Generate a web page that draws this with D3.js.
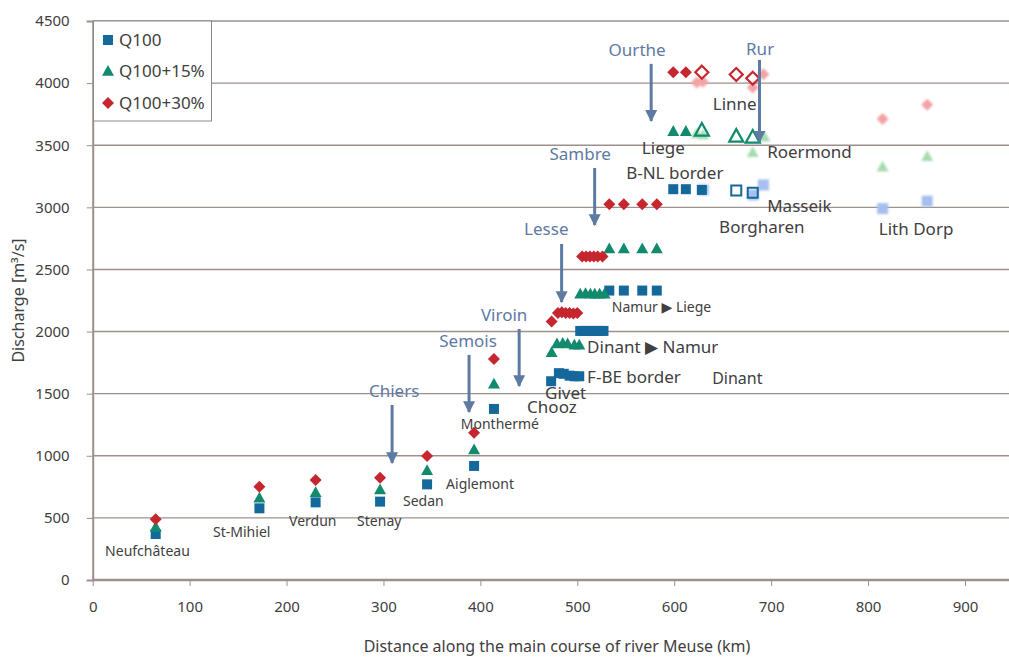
<!DOCTYPE html>
<html>
<head>
<meta charset="utf-8">
<script src="https://cdn.jsdelivr.net/npm/d3@7"></script>
<style>
  html, body { margin: 0; padding: 0; background: #fff; }
  svg { display: block; }
  text { font-family: "Noto Sans", "DejaVu Sans", sans-serif; }
</style>
</head>
<body>
<svg id="chart" width="1009" height="657"></svg>
<script>
// Discharge along the Meuse: km along the main course vs discharge [m3/s]
const xTicks = [0, 100, 200, 300, 400, 500, 600, 700, 800, 900];
const yTicks = [0, 500, 1000, 1500, 2000, 2500, 3000, 3500, 4000, 4500];

// Q100 (filled squares)
const q100Km  = [65, 172, 230, 296.5, 345, 393.5, 414, 473, 481, 486, 492, 497, 502, 503, 507, 511, 515, 519, 523, 527, 533, 548, 567, 582, 599, 612, 628.5];
const q100Val = [370, 577, 625, 631, 770, 918, 1377, 1600, 1665, 1660, 1645, 1640, 1640, 2005, 2005, 2005, 2005, 2005, 2005, 2005, 2330, 2330, 2330, 2330, 3146, 3146, 3140];
// Q100 + 15% (filled triangles)
const q115Km  = [65, 172, 230, 296.5, 345, 393.5, 414, 473.5, 479, 485, 490, 497, 502, 503, 508.5, 513.5, 518, 523, 528, 533, 548, 567, 582, 599, 612];
const q115Val = [424, 658, 703, 725, 880, 1047, 1576, 1830, 1900, 1905, 1900, 1890, 1890, 2300, 2305, 2300, 2300, 2300, 2300, 2665, 2665, 2665, 2665, 3610, 3610];
// Q100 + 30% (filled diamonds)
const q130Km  = [65, 172, 230, 296.5, 345, 393.5, 414, 473.5, 480, 484, 488, 492, 496, 500, 505, 509, 513, 517, 521, 526, 533, 548, 567, 582, 599, 612];
const q130Val = [489, 751, 805, 824, 998, 1186, 1779, 2080, 2150, 2155, 2150, 2150, 2145, 2150, 2605, 2605, 2605, 2605, 2605, 2605, 3025, 3025, 3025, 3025, 4088, 4088];

// Outlined markers (Dutch stations)
const q100OpenKm  = [664, 681];
const q100OpenVal = [3135, 3118];
const q115OpenKm  = [628.5, 664, 681];
const q115OpenVal = [3618, 3569, 3561];
const q130OpenKm  = [628.5, 664, 681];
const q130OpenVal = [4088, 4069, 4039];

// Pale markers (alternative estimates)
const q100PaleKm  = [630, 681.5, 692, 815, 861];
const q100PaleVal = [3140, 3100, 3180, 2990, 3050];
const q115PaleKm  = [623, 630, 681, 693, 815, 861];
const q115PaleVal = [3590, 3583, 3440, 3564, 3323, 3408];
const q130PaleKm  = [623.3, 629.5, 681, 692, 815, 861];
const q130PaleVal = [4005, 4010, 3964, 4072, 3712, 3825];

// Station names: label, km at left edge, discharge at text middle, font size
const stationNames = ["Neufchâteau", "St-Mihiel", "Verdun", "Stenay", "Sedan", "Aiglemont", "Monthermé", "Chooz", "Givet", "F-BE border", "Dinant ▶ Namur", "Namur ▶ Liege", "Dinant", "Liege", "B-NL border", "Linne", "Roermond", "Masseik", "Borgharen", "Lith Dorp"];
const stationKm    = [12.8, 124.2, 202.6, 272.8, 320.2, 364.6, 379.8, 448.2, 466.7, 510.1, 510.1, 535.6, 639.1, 566.6, 550.4, 639.8, 695.9, 695.9, 646.3, 811.1];
const stationQ     = [233, 386, 475, 475, 638, 773, 1256, 1395, 1506, 1634, 1878, 2200, 1626, 3478, 3280, 3833, 3449, 3014, 2845, 2826];
const stationSize  = [14, 14, 14, 14, 14, 14, 14, 17, 17, 17, 17, 14, 16, 17, 17, 17, 17, 17, 17, 17];

// Tributaries: name, confluence km, arrow top / bottom discharge, label position
const riverNames  = ["Chiers", "Semois", "Viroin", "Lesse", "Sambre", "Ourthe", "Rur"];
const riverKm     = [308.9, 388.3, 440, 483.8, 517.9, 576.2, 688];
const riverTop    = [1409, 1812, 2021, 2705, 3317, 4155, 4187];
const riverBottom = [942, 1353, 1562, 2238, 2858, 3696, 3527];
const riverLabelKm = [311, 387.3, 424.5, 468, 503, 561.7, 688.6];
const riverLabelQ  = [1522, 1924, 2134, 2826, 3430, 4267, 4275];

const legendNames = ["Q100", "Q100+15%", "Q100+30%"];

const W = 1009, H = 657;
const svg = d3.select("#chart");

const x = d3.scaleLinear().domain([0, 900]).range([92.7, 965]);
const y = d3.scaleLinear().domain([0, 4500]).range([580, 21]);
const xEnd = W;

const gridColor = "#9d8f8b";
const textColor = "#404040";
const riverColor = "#5e7aa3";
const cSquare = "#14699a", cTri = "#128a6e", cDia = "#c6262e";
const pSquare = "#a6bff0", pTri = "#a5dcaf", pDia = "#f2a3a6";

// Gridlines
svg.append("g").selectAll("line").data(yTicks.filter(d => d > 0)).join("line")
  .attr("x1", x(0)).attr("x2", xEnd)
  .attr("y1", d => y(d)).attr("y2", d => y(d))
  .attr("stroke", gridColor).attr("stroke-width", 1.4);

// Axes
const yAxis = d3.axisLeft(y).tickValues(yTicks).tickFormat(d3.format("d")).tickSize(6).tickPadding(17);
const gy = svg.append("g").attr("transform", `translate(${x(0)},0)`).call(yAxis);
gy.select(".domain").attr("stroke", gridColor).attr("stroke-width", 2);
gy.selectAll(".tick line").attr("stroke", gridColor).attr("stroke-width", 1);
gy.selectAll(".tick text").attr("fill", textColor).attr("font-size", 15)
  .attr("font-family", "'Noto Sans', sans-serif");

const xAxis = d3.axisBottom(x).tickValues(xTicks).tickFormat(d3.format("d")).tickSize(6).tickPadding(15);
const gx = svg.append("g").attr("transform", `translate(0,${y(0)})`).call(xAxis);
gx.select(".domain").remove();
gx.append("line").attr("x1", x(0)).attr("x2", xEnd).attr("y1", 0).attr("y2", 0)
  .attr("stroke", gridColor).attr("stroke-width", 2.4);
gx.selectAll(".tick line").attr("stroke", gridColor).attr("stroke-width", 1);
gx.selectAll(".tick text").attr("fill", textColor).attr("font-size", 15)
  .attr("font-family", "'Noto Sans', sans-serif");

// Axis titles
svg.append("text").attr("x", 557).attr("y", 652).attr("text-anchor", "middle")
  .attr("font-size", 16).attr("fill", textColor)
  .text("Distance along the main course of river Meuse (km)");
svg.append("text").attr("transform", `translate(24,${y(2250)}) rotate(-90)`)
  .attr("text-anchor", "middle").attr("font-size", 16).attr("fill", textColor)
  .text("Discharge [m³/s]");

// Marker shapes
function shapePath(kind, s) {
  if (kind === "square") return `M${-s/2},${-s/2}h${s}v${s}h${-s}Z`;
  if (kind === "triangle") { const h = s * 0.9; return `M0,${-h*0.6}L${s/2},${h*0.4}L${-s/2},${h*0.4}Z`; }
  const r = s / 2; return `M0,${-r}L${r},0L0,${r}L${-r},0Z`;
}

const defs = svg.append("defs");
defs.append("filter").attr("id", "soft").attr("x", "-50%").attr("y", "-50%").attr("width", "200%").attr("height", "200%")
  .append("feGaussianBlur").attr("stdDeviation", 0.9);

function plotSeries(kms, vals, kind, opts) {
  const pts = kms.map((k, i) => ({ k, v: vals[i] }));
  const g = svg.append("g");
  if (opts.filter) g.attr("filter", opts.filter);
  g.selectAll("path").data(pts).join("path")
    .attr("transform", d => `translate(${x(d.k)},${y(d.v)})`)
    .attr("d", shapePath(kind, opts.size))
    .attr("fill", opts.fill)
    .attr("stroke", opts.stroke || "none")
    .attr("stroke-width", opts.strokeWidth || 0)
    .attr("stroke-linejoin", "miter");
}

// Pale markers underneath
plotSeries(q100PaleKm, q100PaleVal, "square", { size: 11, fill: pSquare, filter: "url(#soft)" });
plotSeries(q115PaleKm, q115PaleVal, "triangle", { size: 12, fill: pTri, filter: "url(#soft)" });
plotSeries(q130PaleKm, q130PaleVal, "diamond", { size: 12, fill: pDia, filter: "url(#soft)" });

// Filled markers
plotSeries(q100Km, q100Val, "square", { size: 10, fill: cSquare });
plotSeries(q115Km, q115Val, "triangle", { size: 12, fill: cTri });
plotSeries(q130Km, q130Val, "diamond", { size: 12, fill: cDia });

// Outlined markers
plotSeries(q100OpenKm, q100OpenVal, "square", { size: 10, fill: "none", stroke: cSquare, strokeWidth: 2 });
plotSeries(q115OpenKm, q115OpenVal, "triangle", { size: 14, fill: "none", stroke: cTri, strokeWidth: 2.2 });
plotSeries(q130OpenKm, q130OpenVal, "diamond", { size: 13, fill: "none", stroke: cDia, strokeWidth: 2.2 });

// Station labels
svg.append("g").selectAll("text").data(stationNames).join("text")
  .attr("x", (d, i) => x(stationKm[i]))
  .attr("y", (d, i) => y(stationQ[i]))
  .attr("dy", "0.35em")
  .attr("font-size", (d, i) => stationSize[i])
  .attr("fill", textColor)
  .text(d => d);

// Tributary arrows
defs.append("marker").attr("id", "arrowHead").attr("viewBox", "0 0 10 10")
  .attr("refX", 9).attr("refY", 5).attr("markerWidth", 4).attr("markerHeight", 4.5)
  .attr("markerUnits", "strokeWidth").attr("orient", "auto")
  .append("path").attr("d", "M0,0L10,5L0,10Z").attr("fill", riverColor);

const rg = svg.append("g");
rg.selectAll("line").data(riverNames).join("line")
  .attr("x1", (d, i) => x(riverKm[i])).attr("x2", (d, i) => x(riverKm[i]))
  .attr("y1", (d, i) => y(riverTop[i])).attr("y2", (d, i) => y(riverBottom[i]))
  .attr("stroke", riverColor).attr("stroke-width", 3)
  .attr("marker-end", "url(#arrowHead)");
rg.selectAll("text").data(riverNames).join("text")
  .attr("x", (d, i) => x(riverLabelKm[i]))
  .attr("y", (d, i) => y(riverLabelQ[i]))
  .attr("dy", "0.35em").attr("text-anchor", "middle")
  .attr("font-size", 17).attr("fill", riverColor)
  .text(d => d);

// Legend
const lg = svg.append("g");
lg.append("rect").attr("x", 93.5).attr("y", 21).attr("width", 118).attr("height", 100)
  .attr("fill", "#fff").attr("stroke", "#8a8a8a").attr("stroke-width", 1);
const legendKinds = ["square", "triangle", "diamond"];
const legendColors = [cSquare, cTri, cDia];
const legendSizes = [10, 12, 12];
legendNames.forEach((name, i) => {
  const cy = 40 + i * 31.5;
  lg.append("path").attr("transform", `translate(108,${cy})`)
    .attr("d", shapePath(legendKinds[i], legendSizes[i])).attr("fill", legendColors[i]);
  lg.append("text").attr("x", 119).attr("y", cy).attr("dy", "0.35em")
    .attr("font-size", 17).attr("fill", textColor).text(name);
});
</script>
</body>
</html>
